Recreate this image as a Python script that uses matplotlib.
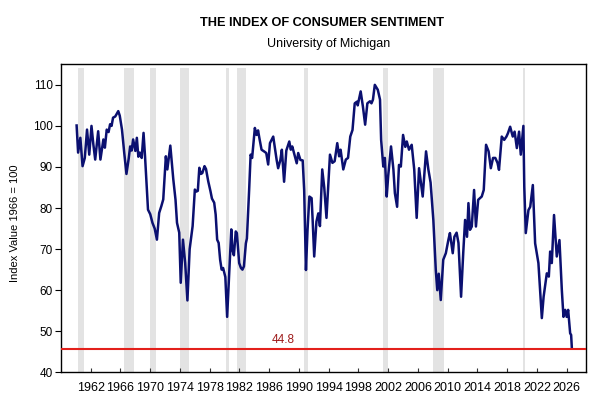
import matplotlib
matplotlib.use("Agg")
import matplotlib.pyplot as plt
from matplotlib import font_manager as fm

# ---- data -------------------------------------------------------------
years = [
    1960.1, 1960.3, 1960.6, 1960.9, 1961.2, 1961.5, 1961.8, 1962.1, 1962.35, 1962.6,
    1963.0, 1963.3, 1963.7, 1963.9, 1964.15, 1964.4, 1964.6, 1964.8, 1965.0, 1965.3,
    1965.7, 1965.9, 1966.2, 1966.5, 1966.8, 1967.1, 1967.3, 1967.5, 1967.7, 1968.0,
    1968.2, 1968.4, 1968.6, 1968.85, 1969.1, 1969.3, 1969.7, 1970.0, 1970.3, 1970.6,
    1970.9, 1971.2, 1971.5, 1971.75, 1972.1, 1972.3, 1972.7, 1973.1, 1973.4, 1973.6,
    1973.9, 1974.1, 1974.4, 1974.7, 1975.0, 1975.3, 1975.7, 1976.0, 1976.2, 1976.4,
    1976.6, 1976.8, 1977.0, 1977.3, 1977.5, 1977.8, 1978.1, 1978.3, 1978.6, 1978.8,
    1979.0, 1979.2, 1979.4, 1979.6, 1979.8, 1980.1, 1980.34, 1980.6, 1980.9, 1981.05,
    1981.25, 1981.5, 1981.65, 1981.96, 1982.2, 1982.4, 1982.6, 1982.86, 1983.0, 1983.3,
    1983.5, 1983.7, 1984.07, 1984.3, 1984.5, 1984.7, 1984.97, 1985.3, 1985.6, 1985.86,
    1986.1, 1986.54, 1986.8, 1987.0, 1987.2, 1987.5, 1987.7, 1988.0, 1988.3, 1988.7,
    1988.9, 1989.1, 1989.4, 1989.7, 1989.9, 1990.2, 1990.5, 1990.7, 1990.94, 1991.15,
    1991.4, 1991.7, 1991.85, 1992.05, 1992.35, 1992.6, 1992.82, 1993.13, 1993.4, 1993.7,
    1994.17, 1994.5, 1994.8, 1995.15, 1995.4, 1995.6, 1995.96, 1996.3, 1996.6, 1996.9,
    1997.2, 1997.5, 1997.8, 1997.9, 1998.3, 1998.6, 1998.9, 1999.2, 1999.55, 1999.75,
    1999.95, 2000.2, 2000.6, 2000.9, 2001.05, 2001.34, 2001.55, 2001.8, 2002.0, 2002.38,
    2002.7, 2002.9, 2003.2, 2003.45, 2003.7, 2004.0, 2004.3, 2004.5, 2004.8, 2005.16,
    2005.5, 2005.83, 2006.15, 2006.4, 2006.64, 2007.09, 2007.4, 2007.7, 2008.07, 2008.4,
    2008.6, 2008.8, 2009.07, 2009.4, 2009.75, 2010.1, 2010.3, 2010.68, 2010.9, 2011.2,
    2011.45, 2011.8, 2012.1, 2012.34, 2012.6, 2012.79, 2013.0, 2013.24, 2013.55, 2013.8,
    2014.1, 2014.58, 2014.85, 2015.16, 2015.5, 2015.8, 2016.1, 2016.4, 2016.7, 2016.9,
    2017.27, 2017.6, 2017.9, 2018.1, 2018.4, 2018.75, 2019.0, 2019.3, 2019.6, 2019.83,
    2020.18, 2020.3, 2020.5, 2020.86, 2021.1, 2021.45, 2021.76, 2022.2, 2022.66, 2022.9,
    2023.33, 2023.6, 2023.78, 2024.0, 2024.3, 2024.67, 2025.03, 2025.35, 2025.57, 2025.8,
    2026.0, 2026.2, 2026.47, 2026.6, 2026.7,
]
sentiment = [
    100.1, 93.5, 97.1, 90.2, 92.2, 99.1, 93.0, 100.0, 95.5, 91.8,
    98.7, 91.8, 96.7, 94.7, 99.1, 98.5, 100.4, 100.0, 102.0, 102.3,
    103.6, 102.5, 99.1, 93.5, 88.3, 92.0, 95.0, 94.0, 96.7, 93.9,
    97.1, 92.5, 93.5, 92.2, 98.3, 92.6, 79.6, 78.5, 76.4, 75.0,
    72.3, 78.8, 80.5, 82.1, 92.6, 89.4, 95.2, 87.0, 82.0, 76.4,
    74.0, 61.8, 72.3, 66.6, 57.5, 70.0, 75.6, 84.5, 84.0, 84.2,
    89.8, 88.3, 88.5, 90.2, 89.5, 86.5, 84.1, 82.3, 81.3, 78.4,
    72.3, 71.5, 67.4, 65.0, 65.4, 63.2, 53.5, 63.3, 74.8, 69.8,
    68.5, 74.3, 73.9, 66.6, 65.4, 65.0, 65.8, 71.4, 72.6, 84.4,
    93.0, 92.2, 99.5, 97.8, 98.9, 96.8, 94.2, 93.8, 93.4, 90.6,
    95.8, 97.4, 94.2, 91.7, 89.7, 91.7, 94.2, 86.4, 94.0, 96.2,
    94.2, 95.0, 93.0, 90.9, 93.4, 91.7, 91.6, 84.4, 64.9, 74.6,
    82.8, 82.4, 76.7, 68.2, 76.7, 78.7, 75.6, 89.4, 85.0, 77.6,
    93.0, 91.0, 91.4, 95.8, 92.6, 94.2, 89.4, 91.8, 92.2, 97.4,
    99.0, 105.5, 105.9, 105.0, 108.4, 104.7, 100.3, 105.5, 106.0, 105.5,
    106.4, 110.0, 108.8, 106.4, 96.6, 90.1, 92.2, 82.8, 87.8, 95.0,
    89.4, 83.6, 80.3, 90.5, 90.1, 97.8, 94.9, 96.2, 94.2, 95.4,
    89.4, 77.6, 89.7, 86.2, 82.8, 93.8, 89.4, 86.2, 77.1, 64.9,
    60.0, 64.0, 57.6, 67.4, 69.0, 72.3, 73.9, 69.0, 73.0, 74.0,
    71.5, 58.4, 69.4, 77.1, 73.0, 81.2, 74.7, 75.5, 84.4, 75.5,
    82.0, 82.8, 84.4, 95.4, 93.8, 89.7, 92.2, 92.2, 91.0, 89.3,
    97.4, 96.6, 97.4, 98.2, 99.8, 97.4, 98.6, 94.6, 98.6, 93.0,
    100.0, 85.2, 73.9, 79.5, 80.3, 85.6, 71.4, 66.6, 53.2, 58.4,
    64.1, 63.3, 69.4, 66.6, 78.3, 68.2, 72.2, 60.0, 53.5, 55.2,
    53.5, 55.2, 49.5, 49.1, 45.8,
]
recession_start = [1960.29, 1966.44, 1970.03, 1973.94, 1980.13, 1981.65, 1990.67, 2001.26, 2008.0, 2020.18]
recession_end   = [1961.06, 1967.83, 1970.84, 1975.15, 1980.53, 1982.86, 1991.25, 2001.93, 2009.5, 2020.37]
tick_years = list(range(1962, 2027, 4))
tick_labels = [str(y) for y in tick_years]
line_level = 45.7
line_label = "44.8"

title = "THE INDEX OF CONSUMER SENTIMENT"
subtitle = "University of Michigan"
ylabel = "Index Value 1966 = 100"

# ---- fonts ------------------------------------------------------------
avail = {f.name for f in fm.fontManager.ttflist}
narrow = ['Liberation Sans Narrow', 'Liberation Sans', 'DejaVu Sans']
narrow = [f for f in narrow if f in avail] or ['DejaVu Sans']
regular = [f for f in ['Liberation Sans', 'DejaVu Sans'] if f in avail] or ['DejaVu Sans']
plt.rcParams['font.family'] = regular

# ---- figure -----------------------------------------------------------
fig = plt.figure(figsize=(6.0, 4.2), dpi=100)
ax = fig.add_axes([61/600, 1-372.3/420, (586-61)/600, (372.3-64.3)/420])

for s, e in zip(recession_start, recession_end):
    ax.fill_between([s, e], 40, 114.1, color='#e3e3e3', linewidth=0, zorder=0)

ax.plot(years, sentiment, color='#0b1070', linewidth=1.8, zorder=3,
        solid_joinstyle='round')
ax.axhline(line_level, color='#e3201b', linewidth=1.5, zorder=4)
ax.text(1987.9, line_level + 0.7, line_label, color='#9e1a1a', fontsize=8.5,
        ha='center', va='bottom', family=narrow)

ax.set_xlim(1958.0, 2028.6)
ax.set_ylim(40, 115)
ax.set_yticks(range(40, 111, 10))
ax.set_xticks(tick_years)
ax.set_xticklabels(tick_labels, family=narrow, fontsize=9)
ax.tick_params(axis='x', direction='in', length=3, width=0.8, pad=7, colors='#333333',
               labelcolor='black')
ax.tick_params(axis='y', direction='out', length=4, width=0.8, pad=2, labelsize=8.5)
for sp in ax.spines.values():
    sp.set_color('black')
    sp.set_linewidth(1.0)

fig.text(322/600, 1-23/420, title, ha='center', va='center', fontsize=9.2,
         fontweight='bold', family=narrow)
fig.text(329/600, 1-44.5/420, subtitle, ha='center', va='center', fontsize=9,
         family=narrow)
fig.text(15/600, 1-223/420, ylabel, ha='center', va='center', rotation=90,
         fontsize=8)

fig.savefig('out.png', dpi=100)
